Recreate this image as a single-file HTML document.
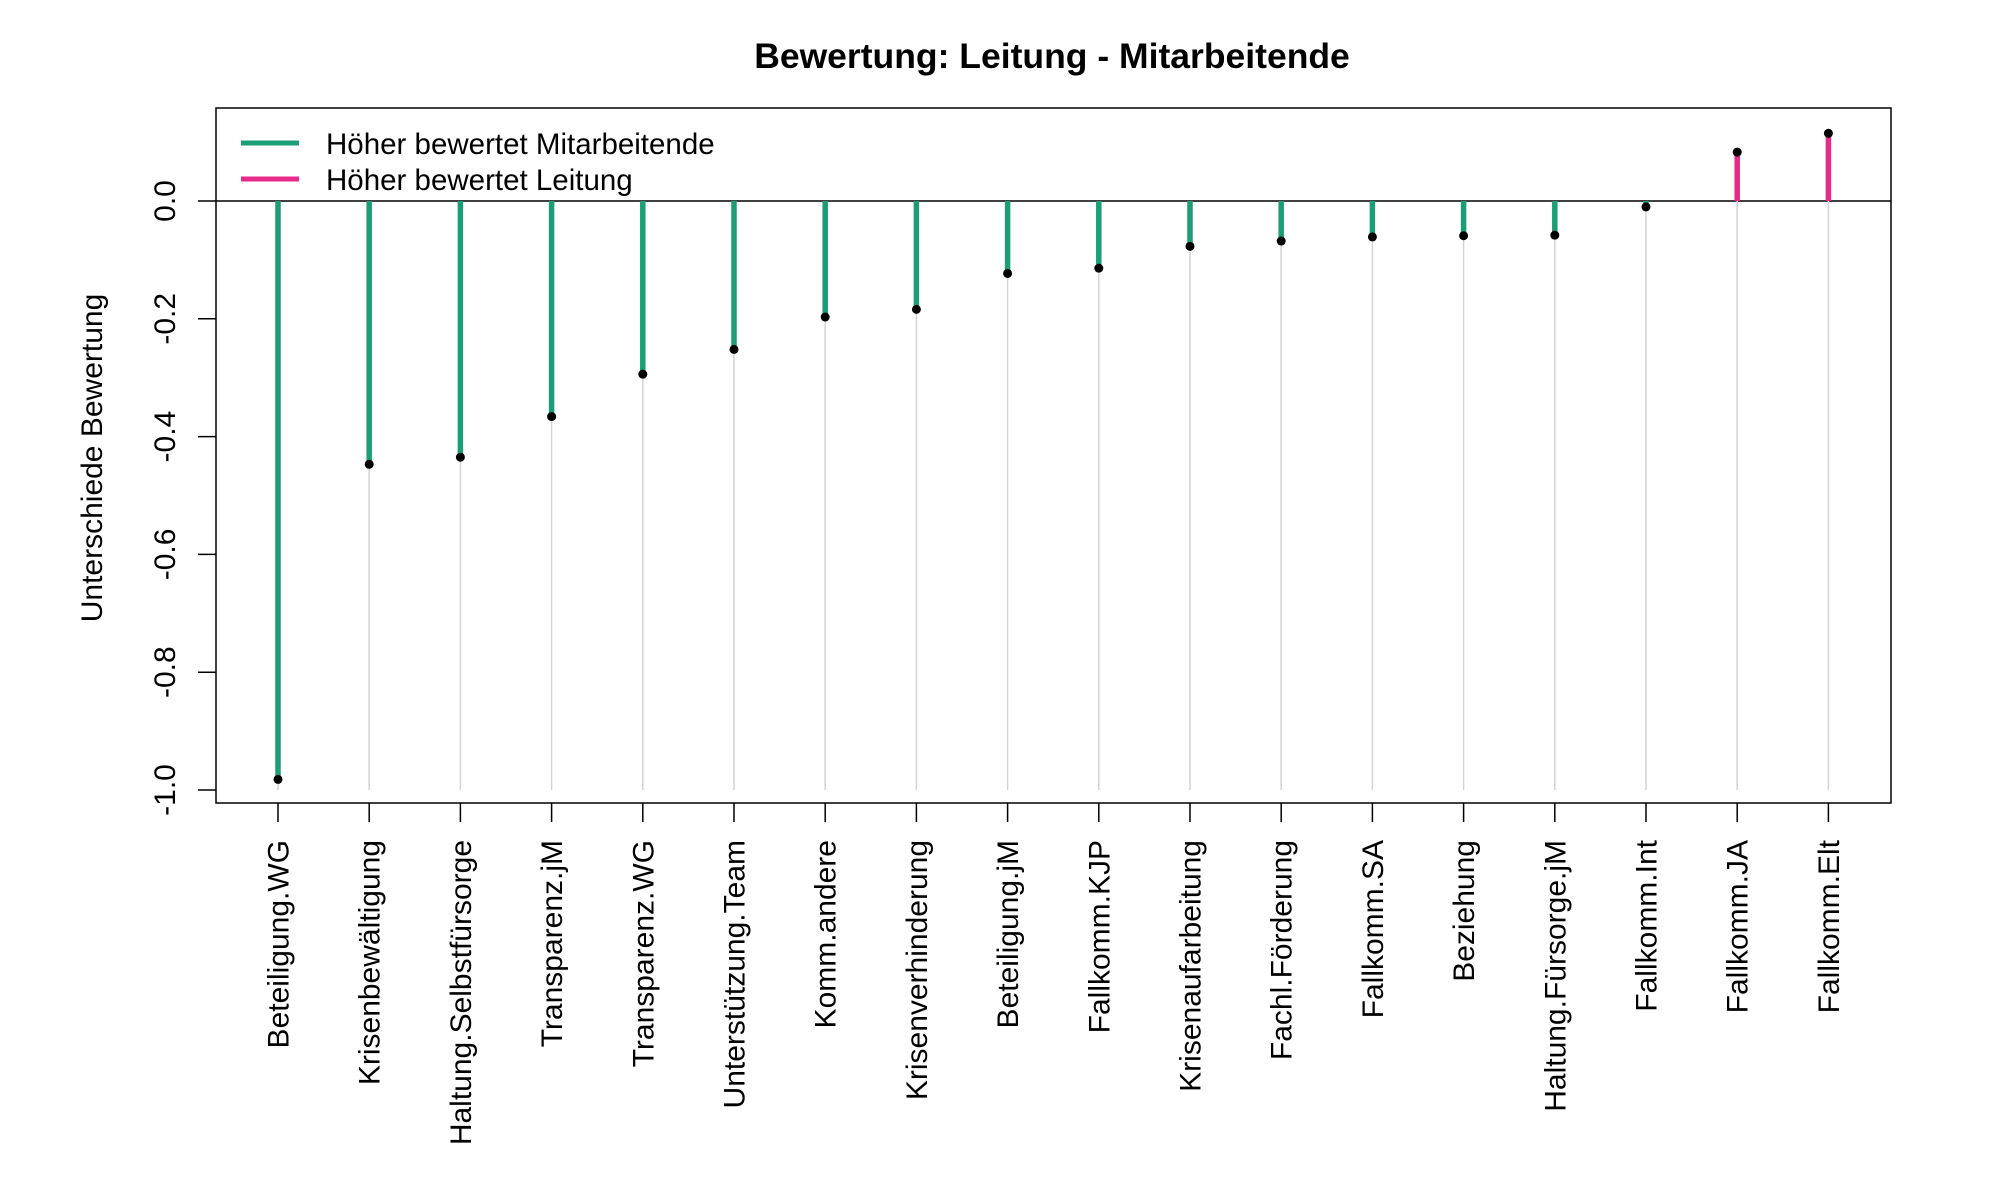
<!DOCTYPE html>
<html><head><meta charset="utf-8"><style>
html,body{margin:0;padding:0;background:#fff;}
svg{display:block;font-family:"Liberation Sans",Arial,sans-serif;}
</style></head><body>
<svg id="chart" width="2000" height="1200" viewBox="0 0 2000 1200">
<text x="1052" y="68" text-anchor="middle" font-size="35.5" font-weight="bold">Bewertung: Leitung - Mitarbeitende</text>
<text transform="translate(102,458) rotate(-90)" text-anchor="middle" font-size="30">Unterschiede Bewertung</text>
<g id="grid"></g><g id="stems"></g><g id="dots"></g><g id="yaxis"></g><g id="xaxis"></g>
<rect x="216" y="108" width="1675" height="695" fill="none" stroke="#000" stroke-width="1.5"/>
<g>
<line x1="241" y1="143" x2="299" y2="143" stroke="#1b9e77" stroke-width="5"/>
<text x="326" y="154" font-size="29.5">Höher bewertet Mitarbeitende</text>
<line x1="241" y1="179" x2="299" y2="179" stroke="#e7298a" stroke-width="5"/>
<text x="326" y="190" font-size="29.5">Höher bewertet Leitung</text>
</g>
</svg>
<script>
const categories=["Beteiligung.WG","Krisenbewältigung","Haltung.Selbstfürsorge","Transparenz.jM","Transparenz.WG","Unterstützung.Team","Komm.andere","Krisenverhinderung","Beteiligung.jM","Fallkomm.KJP","Krisenaufarbeitung","Fachl.Förderung","Fallkomm.SA","Beziehung","Haltung.Fürsorge.jM","Fallkomm.Int","Fallkomm.JA","Fallkomm.Elt"];
const values=[-0.982,-0.447,-0.435,-0.366,-0.294,-0.252,-0.197,-0.184,-0.123,-0.114,-0.077,-0.068,-0.061,-0.059,-0.058,-0.01,0.083,0.115];
const yTicks=[-1.0,-0.8,-0.6,-0.4,-0.2,0.0];
const yTickLabels=["-1.0","-0.8","-0.6","-0.4","-0.2","0.0"];
const NS="http://www.w3.org/2000/svg";
function xPos(i){return 278+i*91.2;}
function yPos(v){return 201-v*589;}
function mk(tag,attrs,parent){const e=document.createElementNS(NS,tag);for(const k in attrs)e.setAttribute(k,attrs[k]);parent.appendChild(e);return e;}
const grid=document.getElementById('grid'),stems=document.getElementById('stems'),dots=document.getElementById('dots'),ya=document.getElementById('yaxis'),xa=document.getElementById('xaxis');
const zl=mk('line',{x1:216,x2:1891,y1:yPos(0),y2:yPos(0),stroke:'#000','stroke-width':1.5},grid);


categories.forEach((c,i)=>{
  const x=xPos(i),v=values[i];
  const g=mk('line',{x1:x,x2:x,y1:yPos(0),y2:yPos(-1.0),stroke:'#d3d3d3','stroke-width':1.5},grid);
  
  
  const s=mk('line',{x1:x,x2:x,y1:yPos(0),y2:yPos(v),stroke:v<0?'#1b9e77':'#e7298a','stroke-width':5.5},stems);
  
  
  const d=mk('circle',{cx:x,cy:yPos(v),r:4.5,fill:'#000'},dots);
  
  
  const t=mk('line',{x1:x,x2:x,y1:803,y2:822,stroke:'#000','stroke-width':1.5},xa);
  
  
  const l=mk('text',{transform:`translate(${x+10.5},840) rotate(-90)`,'text-anchor':'end','font-size':30},xa);
  l.textContent=c;
  
  
});
yTicks.forEach((v,i)=>{
  const y=yPos(v);
  const t=mk('line',{x1:198,x2:216,y1:y,y2:y,stroke:'#000','stroke-width':1.5},ya);
  
  
  const l=mk('text',{transform:`translate(175,${y}) rotate(-90)`,'text-anchor':'middle','font-size':30},ya);
  l.textContent=yTickLabels[i];
  
  
});
</script>
</body></html>
